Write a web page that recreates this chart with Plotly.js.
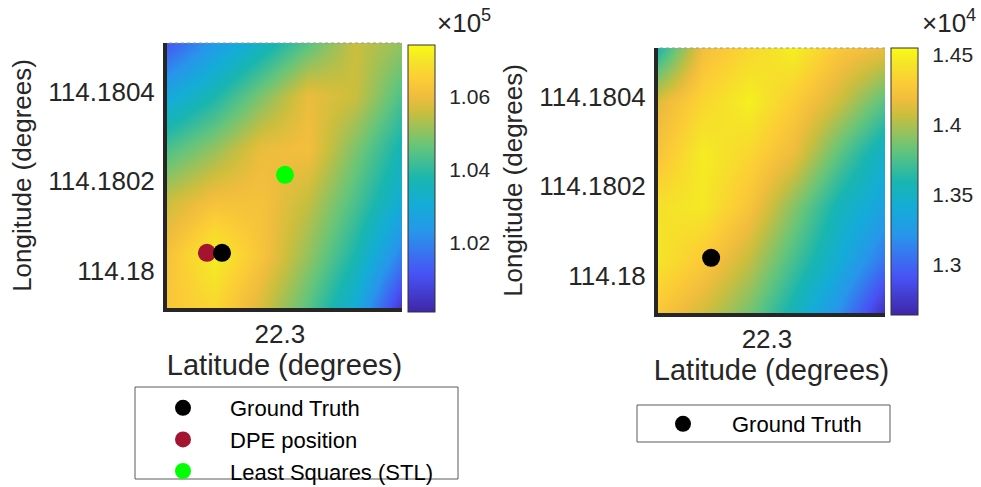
<!DOCTYPE html>
<html>
<head>
<meta charset="utf-8">
<script src="https://cdn.plot.ly/plotly-3.0.1.min.js"></script>
<style>html,body{margin:0;padding:0;background:#fff;}#chart{width:981px;height:487px;}</style>
</head>
<body>
<div id="chart"></div>
<script>
// ---- data ----
const latGrid = [22.29976, 22.29986, 22.29996, 22.30006, 22.30016, 22.30026];
const lonGrid = [114.179917, 114.180035, 114.180153, 114.180272, 114.18039, 114.180508];

// Left map (cost values), rows from bottom (south) to top (north)
const costLeft = [
  [106324, 106689, 105739, 104496, 103034, 100476],
  [106177, 107201, 106250, 105081, 103765, 101938],
  [105593, 106177, 106177, 105519, 104350, 103034],
  [104350, 105081, 105958, 106104, 104862, 103619],
  [102888, 103765, 104862, 105958, 105593, 104350],
  [101207, 102449, 103400, 104496, 105593, 105081]
];
// Right map, rows from bottom to top
const costRight = [
  [14264, 14092, 13862, 13538, 13175, 12697],
  [14435, 14283, 14053, 13729, 13404, 13060],
  [14416, 14455, 14244, 13901, 13538, 13309],
  [14244, 14474, 14359, 14168, 13786, 13461],
  [14130, 14359, 14493, 14302, 14073, 13786],
  [13595, 14206, 14359, 14493, 14264, 14168]
];
const leftRange = [100110, 107420];
const rightRange = [12640, 14550];
const leftCbTicks = [102000, 104000, 106000];
const leftCbText = ['1.02', '1.04', '1.06'];
const rightCbTicks = [13000, 13500, 14000, 14500];
const rightCbText = ['1.3', '1.35', '1.4', '1.45'];

const gtLat = [22.299877], gtLon = [114.18004];
const dpeLat = [22.299845], dpeLon = [114.18004];
const lsLat = [22.300011], lsLon = [114.180214];

const lonTicks = [114.18, 114.1802, 114.1804];
const lonTickText = ['114.18', '114.1802', '114.1804'];
const latTicks = [22.3];
const latTickText = ['22.3'];

// ---- style ----
const W = 981, H = 487;
const px = v => v / W, py = v => 1 - v / H;
const FONT = 'Liberation Sans, Arial, sans-serif';
const TXT = '#262626';
const parula = [
  [0.00, 'rgb(62,38,168)'],
  [0.14, 'rgb(72,82,244)'],
  [0.30, 'rgb(39,150,235)'],
  [0.40, 'rgb(20,172,215)'],
  [0.50, 'rgb(25,182,175)'],
  [0.62, 'rgb(101,197,122)'],
  [0.75, 'rgb(203,190,61)'],
  [0.81, 'rgb(241,189,61)'],
  [0.87, 'rgb(252,204,54)'],
  [0.94, 'rgb(245,228,40)'],
  [1.00, 'rgb(249,251,21)']
];

function cb(x0, top, bottom, vals, text) {
  return {
    x: px(x0), xanchor: 'left', xpad: 0, ypad: 0,
    y: py((top + bottom) / 2), yanchor: 'middle',
    len: (bottom - top) / H, lenmode: 'fraction',
    thickness: 27, thicknessmode: 'pixels',
    outlinecolor: '#333', outlinewidth: 1,
    tickvals: vals, ticktext: text,
    ticks: 'outside', ticklen: 10, tickcolor: 'rgba(0,0,0,0)',
    tickfont: {family: FONT, size: 21, color: TXT}
  };
}

const hmLeft = {type: 'heatmap', x: latGrid, y: lonGrid, z: costLeft, xaxis: 'x', yaxis: 'y',
   zsmooth: 'best', colorscale: parula, zmin: leftRange[0], zmax: leftRange[1],
   showlegend: false, colorbar: cb(408, 45, 312, leftCbTicks, leftCbText)};
const hmRight = {type: 'heatmap', x: latGrid, y: lonGrid, z: costRight, xaxis: 'x2', yaxis: 'y2',
   zsmooth: 'best', colorscale: parula, zmin: rightRange[0], zmax: rightRange[1],
   showlegend: false, colorbar: cb(891, 48, 315, rightCbTicks, rightCbText)};
const mk = (c) => ({color: c, size: 18, line: {width: 0}});
const gtL = {type: 'scatter', mode: 'markers', name: 'Ground Truth', x: gtLat, y: gtLon, xaxis: 'x', yaxis: 'y',
   marker: mk('#000000'), legend: 'legend', legendrank: 1};
const dpe = {type: 'scatter', mode: 'markers', name: 'DPE position', x: dpeLat, y: dpeLon, xaxis: 'x', yaxis: 'y',
   marker: mk('#A2142F'), legend: 'legend', legendrank: 2};
const ls = {type: 'scatter', mode: 'markers', name: 'Least Squares (STL)', x: lsLat, y: lsLon, xaxis: 'x', yaxis: 'y',
   marker: mk('#00FF00'), legend: 'legend', legendrank: 3};
const gtR = {type: 'scatter', mode: 'markers', name: 'Ground Truth', x: gtLat, y: gtLon, xaxis: 'x2', yaxis: 'y2',
   marker: mk('#000000'), legend: 'legend2'};

const xRange = [latGrid[0], latGrid[latGrid.length - 1]];
const yRange = [lonGrid[0], lonGrid[lonGrid.length - 1]];

function xax(d0, d1, anchor) {
  return {domain: [px(d0), px(d1)], anchor: anchor, range: xRange, tickvals: latTicks, ticktext: latTickText,
    showgrid: false, zeroline: false, showline: true, linecolor: TXT, linewidth: 4, ticks: '',
    ticklabelstandoff: 0, tickfont: {family: FONT, size: 26, color: TXT},
    title: {text: 'Latitude (degrees)', font: {family: FONT, size: 29, color: TXT}, standoff: 2}};
}
function yax(top, bottom, anchor) {
  return {domain: [py(bottom), py(top)], anchor: anchor, range: yRange, tickvals: lonTicks, ticktext: lonTickText,
    showgrid: false, zeroline: false, showline: true, linecolor: TXT, linewidth: 4, ticks: '',
    ticklabelstandoff: 3, tickfont: {family: FONT, size: 26, color: TXT},
    title: {text: 'Longitude (degrees)', font: {family: FONT, size: 26, color: TXT}, standoff: 10}};
}

const dotLine = (x0, x1, y) => ({type: 'line', xref: 'paper', yref: 'paper', x0: px(x0), x1: px(x1), y0: py(y), y1: py(y),
  line: {color: '#9a9a9a', width: 1, dash: 'dot'}});

const layout = {
  width: W, height: H, margin: {l: 0, r: 0, t: 0, b: 0, autoexpand: false},
  paper_bgcolor: '#fff', plot_bgcolor: '#fff',
  font: {family: FONT, color: TXT},
  xaxis: xax(167, 402, 'y'), yaxis: yax(43, 308, 'x'),
  xaxis2: xax(658, 885, 'y2'), yaxis2: yax(48, 313, 'x2'),
  legend: {x: px(136), y: py(387), xanchor: 'left', yanchor: 'top', itemwidth: 84,
    font: {family: FONT, size: 22, color: '#000'}, bgcolor: 'rgba(0,0,0,0)', borderwidth: 0,
    traceorder: 'normal', tracegroupgap: 0},
  legend2: {x: px(634), y: py(403), xanchor: 'left', yanchor: 'top', itemwidth: 88,
    font: {family: FONT, size: 22, color: '#000'}, bgcolor: 'rgba(0,0,0,0)', borderwidth: 0},
  shapes: [
    {type: 'rect', xref: 'paper', yref: 'paper', x0: px(135), x1: px(458), y0: py(479), y1: py(387),
     line: {color: '#5a5a5a', width: 1}, fillcolor: 'rgba(0,0,0,0)', layer: 'below'},
    {type: 'rect', xref: 'paper', yref: 'paper', x0: px(637), x1: px(890), y0: py(442), y1: py(405),
     line: {color: '#5a5a5a', width: 1}, fillcolor: 'rgba(0,0,0,0)', layer: 'below'},
    dotLine(169, 402, 43), dotLine(660, 885, 48)
  ],
  annotations: [
    {xref: 'paper', yref: 'paper', x: px(435), y: py(21), xanchor: 'left', yanchor: 'middle', showarrow: false,
     text: '×10<sup>5</sup>', font: {family: FONT, size: 26, color: TXT}},
    {xref: 'paper', yref: 'paper', x: px(920), y: py(21), xanchor: 'left', yanchor: 'middle', showarrow: false,
     text: '×10<sup>4</sup>', font: {family: FONT, size: 26, color: TXT}}
  ]
};

Plotly.newPlot('chart', [hmLeft, hmRight, dpe, gtL, ls, gtR], layout, {displayModeBar: false, staticPlot: true});
</script>
</body>
</html>
